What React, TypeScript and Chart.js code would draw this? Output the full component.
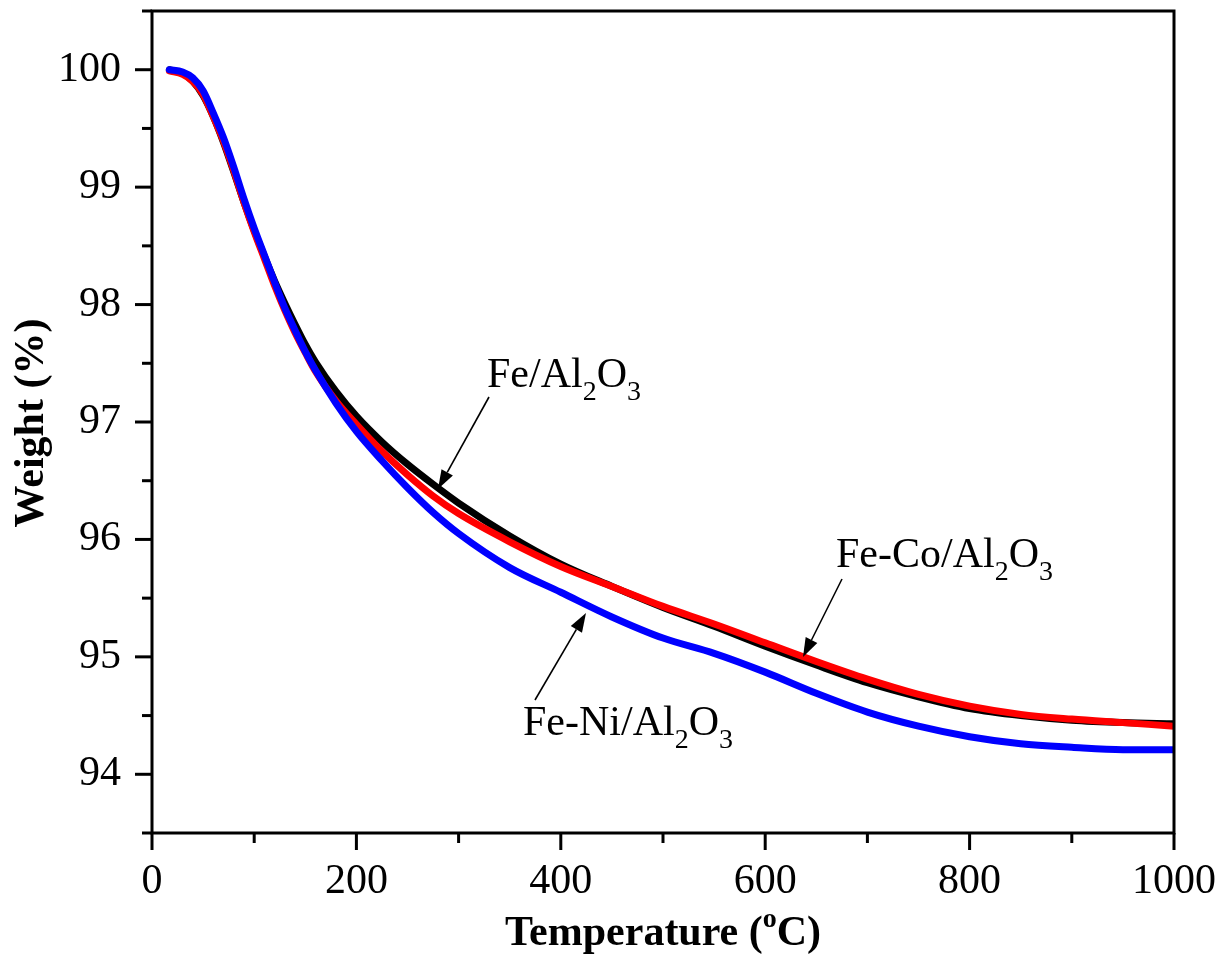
import React, { useEffect, useRef } from 'react';
import { Chart, registerables } from 'chart.js';

Chart.register(...registerables);

// ---- Data ----
const temperature = [17, 30, 40, 50, 60, 70, 80, 90, 100, 110, 120, 130, 140, 150, 160, 180, 200, 225, 250, 275, 300, 350, 400, 450, 500, 550, 600, 650, 700, 750, 800, 850, 900, 950, 1000];
const feAl = [100.0, 99.97, 99.9, 99.78, 99.6, 99.38, 99.13, 98.87, 98.63, 98.41, 98.2, 98.01, 97.83, 97.66, 97.51, 97.26, 97.05, 96.83, 96.64, 96.47, 96.31, 96.03, 95.79, 95.6, 95.42, 95.26, 95.09, 94.93, 94.78, 94.66, 94.56, 94.5, 94.46, 94.44, 94.43];
const feCoAl = [99.99, 99.96, 99.9, 99.79, 99.6, 99.39, 99.14, 98.87, 98.62, 98.39, 98.16, 97.95, 97.76, 97.59, 97.43, 97.18, 96.98, 96.75, 96.55, 96.37, 96.22, 95.98, 95.77, 95.6, 95.43, 95.28, 95.12, 94.96, 94.81, 94.68, 94.58, 94.51, 94.47, 94.44, 94.41];
const feNiAl = [100.0, 99.98, 99.93, 99.82, 99.63, 99.42, 99.17, 98.9, 98.65, 98.42, 98.19, 97.97, 97.78, 97.6, 97.44, 97.16, 96.92, 96.67, 96.44, 96.23, 96.05, 95.76, 95.55, 95.34, 95.16, 95.03, 94.87, 94.69, 94.53, 94.41, 94.32, 94.26, 94.23, 94.21, 94.21];

const xMin = 0;
const xMax = 1000;
const xMajorStep = 200;
const xMinorStep = 100;
const yMin = 93.5;
const yMax = 100.5;
const yMajorStep = 1;
const yMinorStep = 0.5;
const xTickValues = [0, 200, 400, 600, 800, 1000];
const yTickValues = [94, 95, 96, 97, 98, 99, 100];

const xTitle = ['Temperature (', 'o', 'C)'];
const yTitle = 'Weight (%)';

const FONT = "'Liberation Serif', 'Times New Roman', Times, serif";

type Part = { t: string; size: number; dy: number; bold?: boolean };

function drawParts(ctx: CanvasRenderingContext2D, x: number, y: number, parts: Part[]) {
  let cx = x;
  for (const p of parts) {
    ctx.font = `${p.bold ? 'bold ' : ''}${p.size}px ${FONT}`;
    ctx.fillText(p.t, cx, y + p.dy);
    cx += ctx.measureText(p.t).width;
  }
}

function measureParts(ctx: CanvasRenderingContext2D, parts: Part[]) {
  let w = 0;
  for (const p of parts) {
    ctx.font = `${p.bold ? 'bold ' : ''}${p.size}px ${FONT}`;
    w += ctx.measureText(p.t).width;
  }
  return w;
}

function arrow(ctx: CanvasRenderingContext2D, x1: number, y1: number, x2: number, y2: number) {
  const ang = Math.atan2(y2 - y1, x2 - x1);
  const hl = 19;
  const hw = 6.5;
  const bx = x2 - hl * Math.cos(ang);
  const by = y2 - hl * Math.sin(ang);
  ctx.beginPath();
  ctx.moveTo(x1, y1);
  ctx.lineTo(bx, by);
  ctx.lineWidth = 1.6;
  ctx.stroke();
  ctx.beginPath();
  ctx.moveTo(x2, y2);
  ctx.lineTo(bx + hw * Math.sin(ang), by - hw * Math.cos(ang));
  ctx.lineTo(bx - hw * Math.sin(ang), by + hw * Math.cos(ang));
  ctx.closePath();
  ctx.fill();
}

const labelParts = (name: string): Part[] => [
  { t: name + '/Al', size: 42, dy: 0 },
  { t: '2', size: 28, dy: 13 },
  { t: 'O', size: 42, dy: 0 },
  { t: '3', size: 28, dy: 13 },
];

const overlayPlugin = {
  id: 'overlay',
  afterDatasetsDraw(chart: any) {
    const { ctx, chartArea: ca, scales } = chart;
    const xs = scales.x;
    const ys = scales.y;
    ctx.save();
    ctx.strokeStyle = '#000';
    ctx.fillStyle = '#000';
    ctx.lineCap = 'butt';

    // frame
    ctx.lineWidth = 3;
    ctx.strokeRect(ca.left, ca.top, ca.right - ca.left, ca.bottom - ca.top);

    // x ticks (major + minor)
    for (let v = xMin; v <= xMax + 1e-9; v += xMinorStep) {
      const major = Math.abs(v / xMajorStep - Math.round(v / xMajorStep)) < 1e-9;
      const px = xs.getPixelForValue(v);
      ctx.beginPath();
      ctx.moveTo(px, ca.bottom);
      ctx.lineTo(px, ca.bottom + (major ? 17 : 10));
      ctx.stroke();
    }
    // y ticks (major + minor)
    for (let v = yMin; v <= yMax + 1e-9; v += yMinorStep) {
      const major = Math.abs(v / yMajorStep - Math.round(v / yMajorStep)) < 1e-9;
      const py = ys.getPixelForValue(v);
      ctx.beginPath();
      ctx.moveTo(ca.left, py);
      ctx.lineTo(ca.left - (major ? 17 : 10), py);
      ctx.stroke();
    }

    // annotations
    ctx.textBaseline = 'alphabetic';
    ctx.textAlign = 'left';
    drawParts(ctx, 487, 387, labelParts('Fe'));
    drawParts(ctx, 836, 567, labelParts('Fe-Co'));
    drawParts(ctx, 523, 735, labelParts('Fe-Ni'));
    arrow(ctx, 489, 397, 438, 489);
    arrow(ctx, 842, 579, 803, 657);
    arrow(ctx, 535, 700, 586, 613);

    // x title
    const xParts: Part[] = [
      { t: xTitle[0], size: 42, dy: 0, bold: true },
      { t: xTitle[1], size: 28, dy: -18, bold: true },
      { t: xTitle[2], size: 42, dy: 0, bold: true },
    ];
    const w = measureParts(ctx, xParts);
    const cx = (ca.left + ca.right) / 2;
    drawParts(ctx, cx - w / 2, 945, xParts);

    // y title
    ctx.save();
    ctx.translate(43, (ca.top + ca.bottom) / 2 + 1);
    ctx.rotate(-Math.PI / 2);
    ctx.textAlign = 'center';
    ctx.font = `bold 42px ${FONT}`;
    ctx.fillText(yTitle, 0, 0);
    ctx.restore();

    ctx.restore();
  },
};

export default function App() {
  const ref = useRef<HTMLCanvasElement>(null);

  useEffect(() => {
    document.body.style.margin = '0';
    const canvas = ref.current;
    if (!canvas) return;
    const mk = (vals: number[]) => temperature.map((t, i) => ({ x: t, y: vals[i] }));
    const chart = new Chart(canvas, {
      type: 'line',
      data: {
        datasets: [
          { label: 'Fe-Ni/Al2O3', data: mk(feNiAl), borderColor: '#0000ff', borderWidth: 7, pointRadius: 0, cubicInterpolationMode: 'monotone', order: 1, borderCapStyle: 'round' },
          { label: 'Fe-Co/Al2O3', data: mk(feCoAl), borderColor: '#ff0000', borderWidth: 7, pointRadius: 0, cubicInterpolationMode: 'monotone', order: 2, borderCapStyle: 'round' },
          { label: 'Fe/Al2O3', data: mk(feAl), borderColor: '#000000', borderWidth: 7, pointRadius: 0, cubicInterpolationMode: 'monotone', order: 3, borderCapStyle: 'round' },
        ],
      },
      options: {
        responsive: false,
        animation: false,
        devicePixelRatio: 1,
        layout: { padding: { top: 11, right: 56, bottom: 0, left: 0 } },
        plugins: { legend: { display: false }, tooltip: { enabled: false } },
        scales: {
          x: {
            type: 'linear',
            min: xMin,
            max: xMax,
            grid: { display: false, drawTicks: false },
            border: { display: false },
            ticks: {
              padding: 24,
              color: '#000',
              font: { family: FONT, size: 42 },
              maxRotation: 0,
              autoSkip: false,
              callback: (v: any) => String(v),
            },
            afterBuildTicks: (s: any) => {
              s.ticks = xTickValues.map((v) => ({ value: v }));
            },
            afterFit: (s: any) => {
              s.height = 125;
              s.paddingLeft = 0;
              s.paddingRight = 0;
            },
          },
          y: {
            type: 'linear',
            min: yMin,
            max: yMax,
            grid: { display: false, drawTicks: false },
            border: { display: false },
            ticks: {
              padding: 31,
              color: '#000',
              font: { family: FONT, size: 42 },
              autoSkip: false,
              callback: (v: any) => String(v),
            },
            afterBuildTicks: (s: any) => {
              s.ticks = yTickValues.map((v) => ({ value: v }));
            },
            afterFit: (s: any) => {
              s.width = 152;
              s.paddingTop = 0;
              s.paddingBottom = 0;
            },
          },
        },
      },
      plugins: [overlayPlugin],
    } as any);
    return () => chart.destroy();
  }, []);

  return (
    <div style={{ width: 1230, height: 958, position: 'relative' }}>
      <canvas ref={ref} width={1230} height={958} style={{ display: 'block' }} />
    </div>
  );
}
